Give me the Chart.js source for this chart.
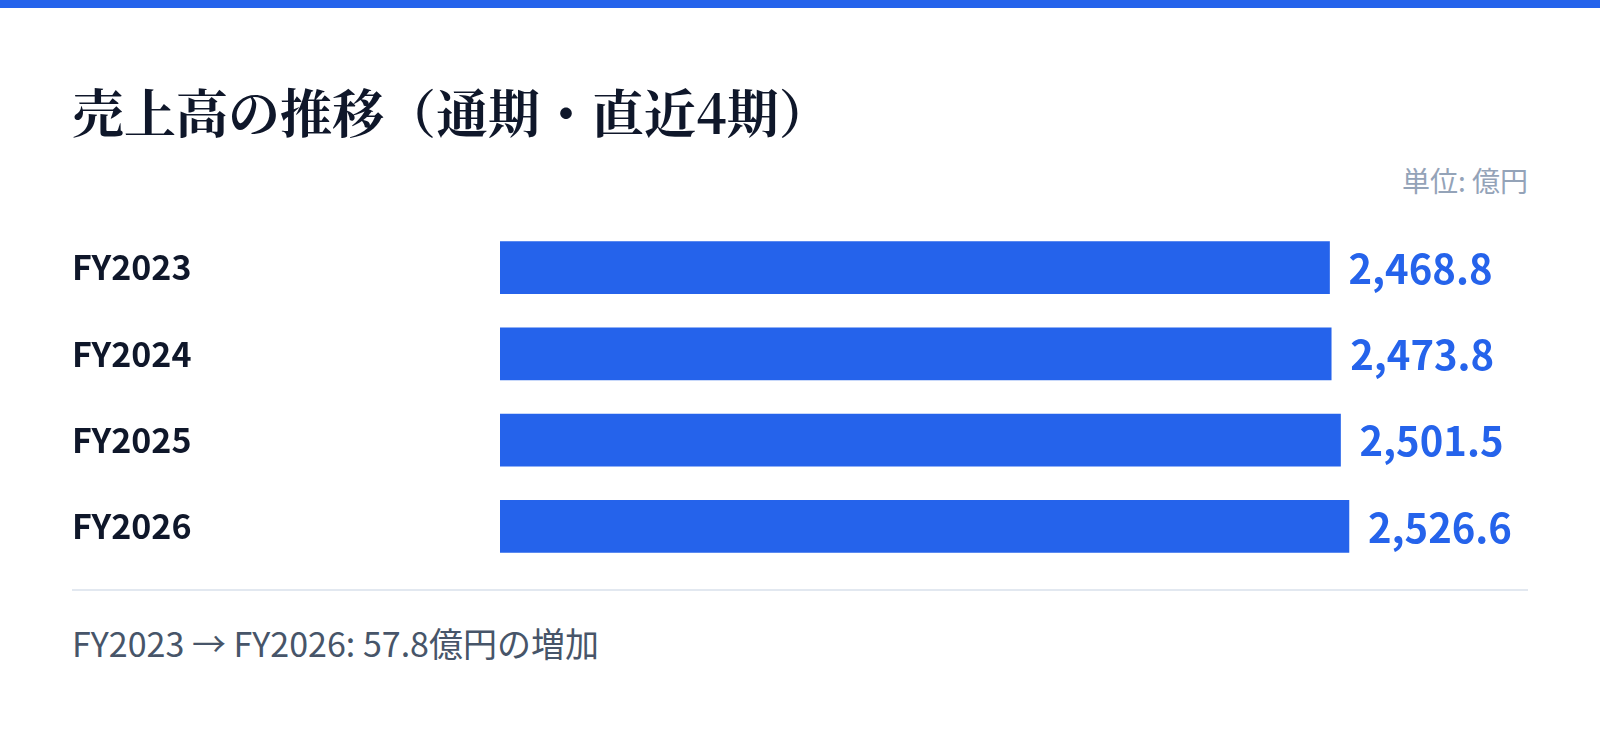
<!DOCTYPE html>
<html lang="ja">
<head>
<meta charset="utf-8">
<title>売上高の推移</title>
<script src="https://cdn.jsdelivr.net/npm/chart.js@4/dist/chart.umd.min.js"></script>
<style>
  html, body { margin: 0; padding: 0; background: #fff; }
  body { width: 1600px; height: 733px; position: relative; overflow: hidden;
         font-family: 'Noto Sans CJK JP', 'Noto Sans', sans-serif; }
  .topbar { position: absolute; left: 0; top: 0; width: 1600px; height: 8px; background: #2563eb; }
  h1 { position: absolute; left: 72px; top: 85px; margin: 0; font-size: 52px; line-height: 52px;
       font-weight: 700; color: #0f172a; font-family: 'Noto Serif CJK JP', 'Noto Sans CJK JP', serif; }
  .unit { position: absolute; right: 72px; top: 162px; font-size: 28px; line-height: 36px; color: #94a3b8; }
  #wrap { position: absolute; left: 72px; top: 201px; width: 1456px; height: 392px; }
  .rule { position: absolute; left: 72px; top: 589px; width: 1456px; height: 2px; background: #e2e8f0; }
  .note { position: absolute; left: 72px; top: 626px; font-size: 34px; line-height: 34px; color: #475569; }
</style>
</head>
<body>
<div class="topbar"></div>
<h1>売上高の推移（通期・直近4期）</h1>
<div class="unit">単位: 億円</div>
<div id="wrap"><canvas id="salesChart"></canvas></div>
<div class="rule"></div>
<div class="note">FY2023 → FY2026: 57.8億円の増加</div>

<script>
const periods = ['FY2023', 'FY2024', 'FY2025', 'FY2026'];
const sales = [2468.8, 2473.8, 2501.5, 2526.6];

// draws the value next to the end of each bar
const valueLabels = {
    id: 'valueLabels',
    afterDatasetsDraw(chart) {
        const ctx = chart.ctx;
        const meta = chart.getDatasetMeta(0);
        ctx.save();
        ctx.fillStyle = '#2563eb';
        ctx.font = "bold 40px 'Noto Sans CJK JP', 'Noto Sans', sans-serif";
        ctx.textAlign = 'left';
        ctx.textBaseline = 'middle';
        meta.data.forEach(function (bar, i) {
            const txt = sales[i].toLocaleString('en-US', { minimumFractionDigits: 1, maximumFractionDigits: 1 });
            ctx.fillText(txt, bar.x + 19, bar.y + 1);
        });
        ctx.restore();
    }
};

const salesCtx = document.getElementById('salesChart');
new Chart(salesCtx, {
    type: 'bar',
    data: {
        labels: periods,
        datasets: [{
            label: '売上高',
            data: sales,
            backgroundColor: '#2563eb',
            borderWidth: 0,
            barThickness: 52
        }]
    },
    options: {
        indexAxis: 'y',
        responsive: true,
        maintainAspectRatio: false,
        animation: false,
        layout: {
            padding: { left: 0, right: 20, top: 0, bottom: 0 }
        },
        plugins: {
            legend: { display: false },
            tooltip: { enabled: false }
        },
        scales: {
            x: {
                display: false,
                min: 0,
                max: 3000
            },
            y: {
                grid: { display: false },
                border: { display: false },
                afterFit: function (scale) { scale.width = 428; },
                ticks: {
                    crossAlign: 'far',
                    color: '#0f172a',
                    font: { family: "'Noto Sans CJK JP', 'Noto Sans', sans-serif", weight: 'bold', size: 34 }
                }
            }
        }
    },
    plugins: [valueLabels]
});
</script>
</body>
</html>
